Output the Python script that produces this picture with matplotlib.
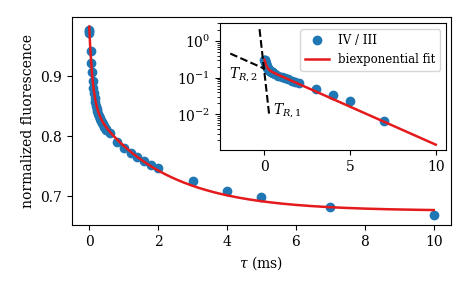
import numpy as np
import matplotlib
matplotlib.use("Agg")
import matplotlib.pyplot as plt

plt.rcParams['font.family'] = ['DejaVu Serif']
plt.rcParams['mathtext.fontset'] = 'dejavuserif'

# measured data: delay tau (ms) and normalized fluorescence (IV / III)
tau = [0.0, 0.002, 0.005, 0.04, 0.065, 0.085, 0.10, 0.12, 0.14, 0.16, 0.18,
       0.20, 0.22, 0.24, 0.26, 0.28, 0.30, 0.32, 0.34, 0.36, 0.38, 0.40,
       0.42, 0.44, 0.46, 0.48, 0.50, 0.60, 0.80, 1.0, 1.2, 1.4, 1.6, 1.8,
       2.0, 3.0, 4.0, 5.0, 7.0, 10.0]
fluor = [0.978, 0.975, 0.972, 0.943, 0.922, 0.908, 0.892, 0.880, 0.872,
         0.864, 0.857, 0.851, 0.846, 0.842, 0.838, 0.834, 0.831, 0.829,
         0.826, 0.824, 0.822, 0.820, 0.818, 0.816, 0.814, 0.812, 0.810,
         0.805, 0.790, 0.780, 0.772, 0.766, 0.758, 0.752, 0.747, 0.7255,
         0.709, 0.6993, 0.682, 0.668]

# biexponential fit parameters
fit_C = 0.6755
fit_A1, fit_T1 = 0.1325, 0.105
fit_A2, fit_T2 = 0.175, 2.1

tau = np.array(tau)
fluor = np.array(fluor)
t_fit = np.linspace(0, 10, 400)
y_fit = fit_C + fit_A1 * np.exp(-t_fit / fit_T1) + fit_A2 * np.exp(-t_fit / fit_T2)

red = '#e41a1c'
blue = '#1f77b4'

fig = plt.figure(figsize=(4.69, 2.93), dpi=100)
ax = fig.add_axes([0.1535, 0.232, 0.808, 0.710])
ax.plot(tau, fluor, 'o', color=blue, markersize=6)
ax.plot(t_fit, y_fit, '-', color=red, lw=1.8)
ax.set_xlim(-0.5, 10.5)
ax.set_ylim(0.652, 0.999)
ax.set_xticks([0, 2, 4, 6, 8, 10])
ax.set_yticks([0.7, 0.8, 0.9])
ax.tick_params(labelsize=10)
ax.set_xlabel(r'$\tau$ (ms)', fontsize=10)
ax.set_ylabel('normalized fluorescence', fontsize=10)

# inset (log scale, offset removed)
ins = fig.add_axes([0.469, 0.488, 0.482, 0.432])
ins.plot(tau, fluor - fit_C, 'o', color=blue, markersize=6, label='IV / III')
ins.plot(t_fit, y_fit - fit_C, '-', color=red, lw=1.8, label='biexponential fit')
t1 = np.linspace(-0.29, 0.275, 10)
ins.plot(t1, fit_A1 * np.exp(-t1 / fit_T1), '--', color='black', lw=1.5)
t2 = np.linspace(-2.0, 0.0, 10)
ins.plot(t2, fit_A2 * np.exp(-t2 / fit_T2), '--', color='black', lw=1.5)
ins.set_yscale('log')
ins.set_xlim(-2.6, 10.6)
ins.set_ylim(1.07e-3, 3.0)
ins.set_xticks([0, 5, 10])
ins.set_yticks([1e-2, 1e-1, 1e0])
ins.tick_params(labelsize=10)
ins.text(-1.25, 0.118, r'$T_{R,2}$', fontsize=10, ha='center', va='center')
ins.text(1.3, 0.0123, r'$T_{R,1}$', fontsize=10, ha='center', va='center')
ins.legend(loc='upper right', fontsize=8.5)

fig.savefig('out.png', dpi=100)
